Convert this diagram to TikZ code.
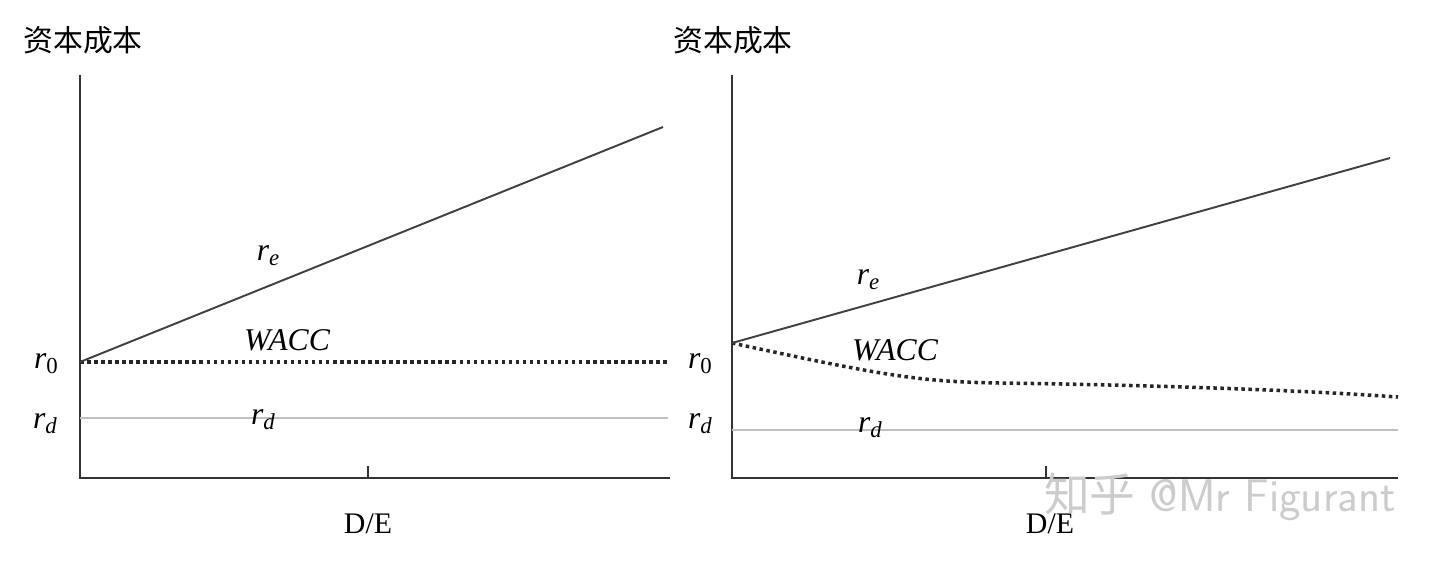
\documentclass[tikz,border=0pt]{standalone}
\usepackage{fontspec}
\setmainfont{Liberation Serif}
\newfontfamily\cjk{Noto Sans CJK SC}
\newcommand{\rr}[1]{\textit{r}\raisebox{-0.35ex}{\fontsize{13}{15}\selectfont #1}}
\begin{document}
\begin{tikzpicture}[x=0.02cm,y=-0.02cm,
  ax/.style={line width=1.1pt,black!80},
  lbl/.style={font=\fontsize{18}{21}\selectfont\itshape},
  ttl/.style={font=\cjk\fontsize{17}{20}\selectfont},
  dots/.style={line width=2pt,dotted,black!85},
  rdline/.style={line width=0.6pt,black!25},
  reline/.style={line width=1.1pt,black!75}]
\useasboundingbox (0,0) rectangle (1440,566);
% left panel
\coordinate (lo) at (80,478); \coordinate (ltop) at (80,75); \coordinate (lend) at (670,478);
\draw[ax] (ltop) -- (lo) -- (lend);
\coordinate (lt1) at (368,466); \coordinate (lt2) at (368,478);
\draw[ax] (lt1) -- (lt2);
\coordinate (lr0) at (80,362); \coordinate (lre) at (663,127);
\coordinate (lw) at (670,362); \coordinate (ld1) at (80,418); \coordinate (ld2) at (668,418);
\draw[rdline] (ld1) -- (ld2);
\draw[dots] (lr0) -- (lw);
\draw[reline] (lr0) -- (lre);
\node[ttl] (lt) at (83,40) {资本成本};
\node[lbl] (l0) at (46,364) {\rr{\upshape 0}};
\node[lbl] (ld) at (45,424) {\rr{d}};
\node[lbl] (le) at (268,256) {\rr{e}};
\node[lbl] (lwacc) at (287,340) {WACC};
\node[lbl] (ldd) at (263,420) {\rr{d}};
\node[font=\fontsize{17}{20}\selectfont] (lde) at (368,524) {D/E};
% right panel
\coordinate (ro) at (732,478); \coordinate (rtop) at (732,75); \coordinate (rend) at (1398,478);
\draw[ax] (rtop) -- (ro) -- (rend);
\coordinate (rt1) at (1046,466); \coordinate (rt2) at (1046,478);
\draw[ax] (rt1) -- (rt2);
\coordinate (rr0) at (732,343); \coordinate (rre) at (1390,158);
\coordinate (rd1) at (732,430); \coordinate (rd2) at (1398,430);
\coordinate (rw) at (1398,397);
\draw[rdline] (rd1) -- (rd2);
\draw[dots] (rr0) .. controls (880,375) and (920,382) .. (1000,383) .. controls (1150,385) and (1300,390) .. (rw);
\draw[reline] (rr0) -- (rre);
\node[ttl] (rt) at (733,40) {资本成本};
\node[lbl] (r0) at (700,364) {\rr{\upshape 0}};
\node[lbl] (rd) at (700,424) {\rr{d}};
\node[lbl] (re) at (868,280) {\rr{e}};
\node[lbl] (rwacc) at (895,350) {WACC};
\node[lbl] (rdd) at (870,428) {\rr{d}};
\node[font=\fontsize{17}{20}\selectfont] (rde) at (1050,524) {D/E};
\node[font=\fontsize{26}{30}\selectfont\sffamily, text=black!20] (wm) at (1220,497) {{\cjk 知乎} @Mr Figurant};
\end{tikzpicture}
\end{document}
